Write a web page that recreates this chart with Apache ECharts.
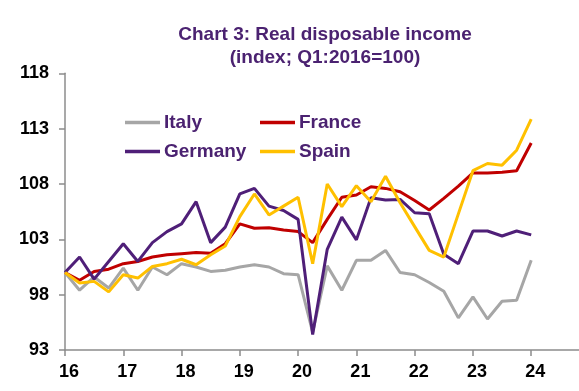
<!DOCTYPE html>
<html>
<head>
<meta charset="utf-8">
<script src="https://cdn.jsdelivr.net/npm/echarts@6/dist/echarts.min.js"></script>
<style>
html,body{margin:0;padding:0;background:#fff;}
#chart{width:579px;height:391px;}
</style>
</head>
<body>
<div id="chart"></div>
<script>
const quarters = ['16Q1','16Q2','16Q3','16Q4','17Q1','17Q2','17Q3','17Q4','18Q1','18Q2','18Q3','18Q4',
  '19Q1','19Q2','19Q3','19Q4','20Q1','20Q2','20Q3','20Q4','21Q1','21Q2','21Q3','21Q4',
  '22Q1','22Q2','22Q3','22Q4','23Q1','23Q2','23Q3','23Q4','24Q1'];
const italy = [100, 98.4, 99.6, 98.6, 100.4, 98.4, 100.5, 99.8, 100.8, 100.5, 100.1, 100.2,
  100.5, 100.7, 100.5, 99.9, 99.8, 94.6, 100.6, 98.4, 101.1, 101.1, 102.0, 100.0,
  99.8, 99.1, 98.3, 95.9, 97.8, 95.8, 97.4, 97.5, 101.1];
const france = [100, 99.3, 100.1, 100.3, 100.8, 101.0, 101.4, 101.6, 101.7, 101.8, 101.75, 102.6,
  104.4, 104.0, 104.05, 103.85, 103.7, 102.7, 104.8, 106.8, 107.0, 107.75, 107.6, 107.3,
  106.5, 105.65, 106.7, 107.8, 109.0, 109.0, 109.05, 109.2, 111.7];
const germany = [100, 101.4, 99.4, 101.0, 102.6, 101.0, 102.7, 103.7, 104.4, 106.4, 102.7, 104.1,
  107.1, 107.6, 106.0, 105.6, 104.8, 94.4, 102.1, 105.0, 102.95, 106.75, 106.55, 106.6,
  105.4, 105.3, 101.65, 100.8, 103.75, 103.75, 103.3, 103.75, 103.4];
const spain = [100, 99.05, 99.2, 98.25, 99.8, 99.5, 100.55, 100.8, 101.2, 100.7, 101.6, 102.4,
  105.05, 107.1, 105.2, 106.0, 106.8, 100.8, 108.0, 105.95, 107.85, 106.4, 108.7, 106.3,
  104.15, 102.0, 101.4, 105.3, 109.2, 109.85, 109.7, 111.05, 113.85];
const xTicks = [16, 17, 18, 19, 20, 21, 22, 23, 24];
const yTicks = [93, 98, 103, 108, 113, 118];

const xOf = q => Number(q.slice(0, 2)) + (Number(q.slice(3)) - 1) / 4;
const pairs = vals => quarters.map((q, i) => [xOf(q), vals[i]]);

const FONT = '"Liberation Sans", Arial, sans-serif';
const PURPLE_TXT = '#4B2271';
const axisCommon = {
  axisLine: {show: true, lineStyle: {color: '#8c8c8c', width: 1.5}},
  axisTick: {show: true, length: 6, lineStyle: {color: '#8c8c8c', width: 1.5}},
  splitLine: {show: false},
  axisLabel: {color: '#000', fontSize: 18, fontWeight: 'bold', fontFamily: FONT}
};
const legendCommon = {
  orient: 'vertical', icon: 'rect', itemWidth: 35, itemHeight: 3.5, itemGap: 10,
  textStyle: {color: PURPLE_TXT, fontSize: 19, fontWeight: 'bold', fontFamily: FONT, padding: [0,0,0,-1]}
};
const chart = echarts.init(document.getElementById('chart'), null, {renderer: 'canvas'});
chart.setOption({
  animation: false,
  backgroundColor: '#fff',
  title: [
    {text: 'Chart 3: Real disposable income', left: 320, top: 20, textAlign: 'center',
     textStyle: {color: PURPLE_TXT, fontSize: 19, fontWeight: 'bold', fontFamily: FONT}},
    {text: '(index; Q1:2016=100)', left: 320, top: 43, textAlign: 'center',
     textStyle: {color: PURPLE_TXT, fontSize: 19, fontWeight: 'bold', fontFamily: FONT}}
  ],
  legend: [
    Object.assign({left: 120, top: 108, data: ['Italy', 'Germany']}, legendCommon),
    Object.assign({left: 255, top: 108, data: ['France', 'Spain']}, legendCommon)
  ],
  grid: {left: 65, right: 0, top: 73.3, bottom: 41, containLabel: false, outerBoundsMode: 'none'},
  xAxis: Object.assign({}, axisCommon, {
    type: 'value', min: 16, max: 24.82,
    axisTick: Object.assign({}, axisCommon.axisTick, {customValues: xTicks}),
    axisLabel: Object.assign({}, axisCommon.axisLabel, {customValues: xTicks, margin: 13, padding: [0,0,0,8]})
  }),
  yAxis: Object.assign({}, axisCommon, {
    type: 'value', min: 93, max: 118,
    axisTick: Object.assign({}, axisCommon.axisTick, {customValues: yTicks}),
    axisLabel: Object.assign({}, axisCommon.axisLabel, {customValues: yTicks, margin: 16})
  }),
  series: [
    {name: 'Italy', type: 'line', data: pairs(italy), symbol: 'none', color: '#A6A6A6', lineStyle: {width: 3}},
    {name: 'France', type: 'line', data: pairs(france), symbol: 'none', color: '#C00000', lineStyle: {width: 3}},
    {name: 'Germany', type: 'line', data: pairs(germany), symbol: 'none', color: '#4F1F78', lineStyle: {width: 3}},
    {name: 'Spain', type: 'line', data: pairs(spain), symbol: 'none', color: '#FFC000', lineStyle: {width: 3}}
  ]
});
</script>
</body>
</html>
